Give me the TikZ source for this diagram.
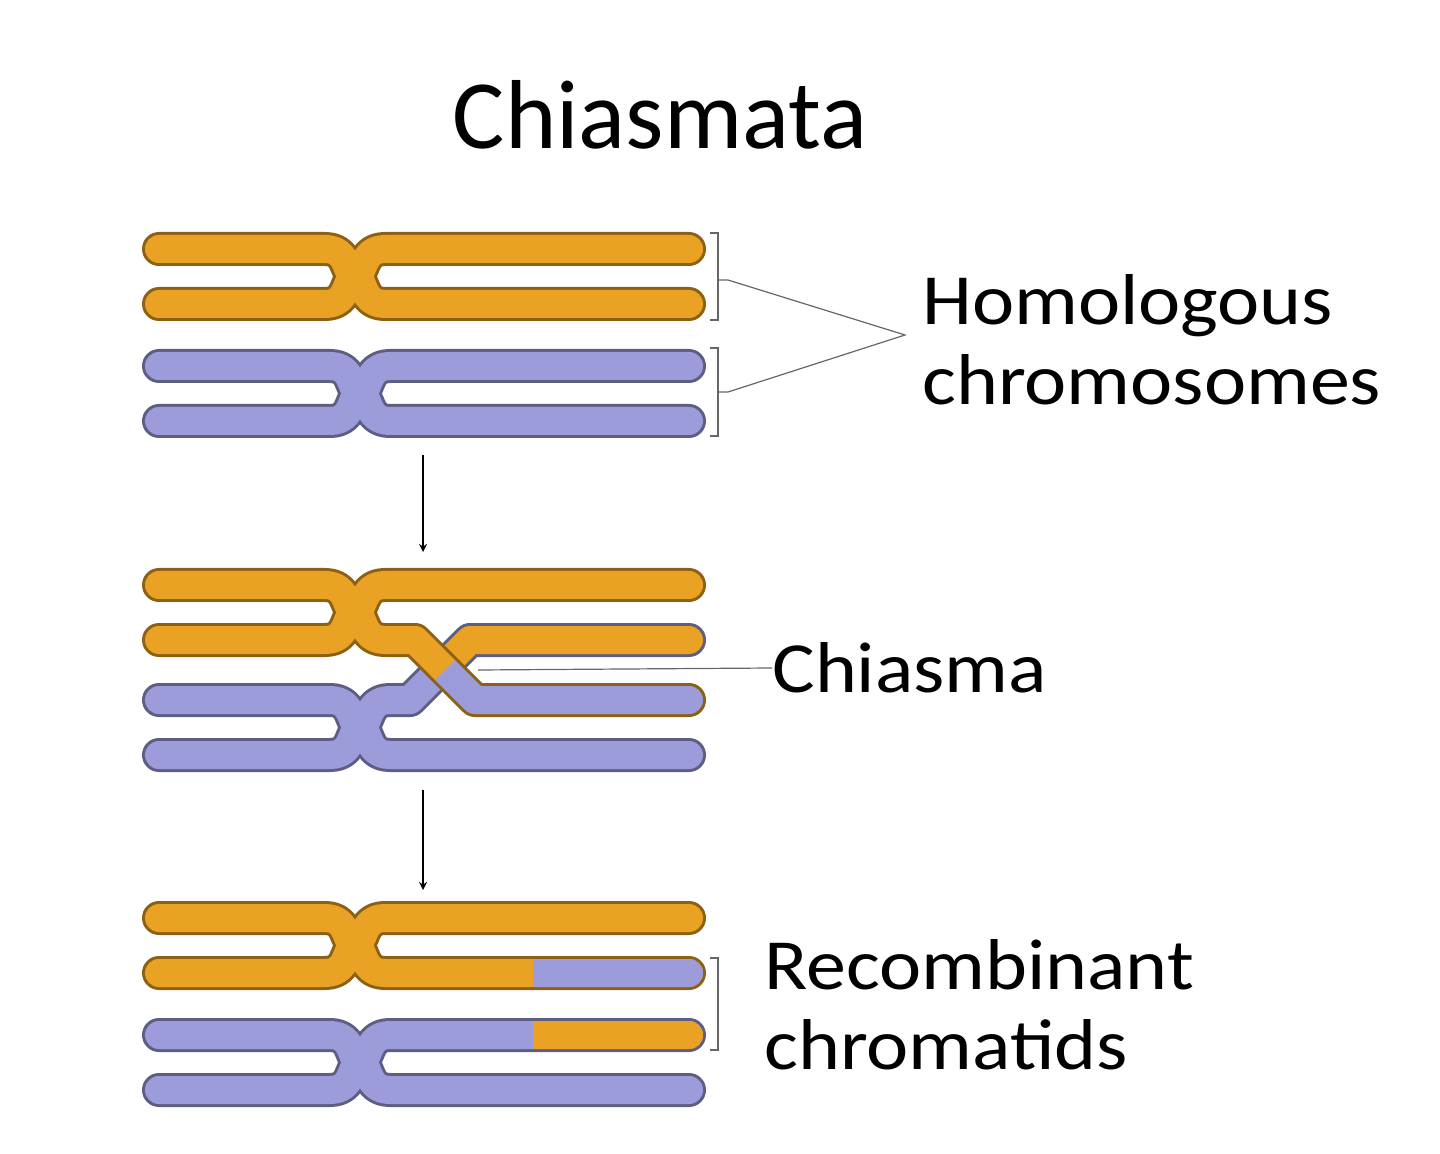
\documentclass[tikz,border=0pt]{standalone}
\usepackage{fontspec}
\setmainfont{Carlito}
\newcommand{\wideT}[1]{\scalebox{1.11}[1]{#1}}
\begin{document}
\begin{tikzpicture}[x=0.5pt,y=-0.5pt,
  ol/.style={line width=17pt,draw=#1!60!black,line cap=round,line join=round},
  fl/.style={line width=14pt,draw=#1,line cap=round,line join=round},
  thin/.style={draw=gray!80!black,line width=0.6pt},
  lab/.style={font=\fontsize{36}{40}\selectfont,anchor=west,align=left,inner sep=0pt}]
\definecolor{org}{HTML}{E9A224}
\definecolor{blu}{HTML}{9C9CDA}
\useasboundingbox (0,0) rectangle (1440,1154);
\node[font=\fontsize{49}{55}\selectfont] (title) at (660,115) {Chiasmata};
\def\pair#1#2#3{%
  \path[ol=#3] (159,#1) -- (#2-30,#1) .. controls (#2-5,#1) and (#2-10,#1+27.5) .. (#2,#1+27.5)
     .. controls (#2+10,#1+27.5) and (#2+5,#1) .. (#2+30,#1) -- (689,#1);
  \path[ol=#3] (159,#1+55) -- (#2-30,#1+55) .. controls (#2-5,#1+55) and (#2-10,#1+27.5) .. (#2,#1+27.5)
     .. controls (#2+10,#1+27.5) and (#2+5,#1+55) .. (#2+30,#1+55) -- (689,#1+55);
  \path[fl=#3] (159,#1) -- (#2-30,#1) .. controls (#2-5,#1) and (#2-10,#1+27.5) .. (#2,#1+27.5)
     .. controls (#2+10,#1+27.5) and (#2+5,#1) .. (#2+30,#1) -- (689,#1);
  \path[fl=#3] (159,#1+55) -- (#2-30,#1+55) .. controls (#2-5,#1+55) and (#2-10,#1+27.5) .. (#2,#1+27.5)
     .. controls (#2+10,#1+27.5) and (#2+5,#1+55) .. (#2+30,#1+55) -- (689,#1+55);}
\def\OT{(159,585) -- (325,585) .. controls (350,585) and (345,612.5) .. (355,612.5) .. controls (365,612.5) and (360,585) .. (385,585) -- (689,585)}
\def\OS{(159,640) -- (325,640) .. controls (350,640) and (345,612.5) .. (355,612.5) .. controls (365,612.5) and (360,640) .. (385,640) -- (415,640) -- (445,670) -- (475,700) -- (689,700)}
\def\BB{(159,755) -- (330,755) .. controls (355,755) and (350,727.5) .. (360,727.5) .. controls (370,727.5) and (365,755) .. (390,755) -- (689,755)}
\def\BS{(159,700) -- (330,700) .. controls (355,700) and (350,727.5) .. (360,727.5) .. controls (370,727.5) and (365,700) .. (390,700) -- (410,700) -- (440,670) -- (470,640) -- (689,640)}
% row 1
\pair{249}{355}{org}
\pair{366}{360}{blu}
% row 2
\path[ol=org] \OT; \path[ol=blu] \BB; \path[ol=blu] \BS;
\path[fl=blu] (159,700) -- (330,700) .. controls (355,700) and (350,727.5) .. (360,727.5) .. controls (370,727.5) and (365,700) .. (390,700) -- (410,700) -- (440,670);
\path[fl=org,line cap=butt] (440,670) -- (470,640) -- (689,640);
\fill[org] (689,640) circle[radius=7pt];
\path[ol=org] \OS;
\path[fl=org] (159,640) -- (325,640) .. controls (350,640) and (345,612.5) .. (355,612.5) .. controls (365,612.5) and (360,640) .. (385,640) -- (415,640) -- (445,670);
\path[fl=blu,line cap=butt] (445,670) -- (475,700) -- (689,700);
\fill[blu] (689,700) circle[radius=7pt];
\path[fl=org] \OT; \path[fl=blu] \BB;
% row 3
\pair{918}{355}{org}
\pair{1035}{360}{blu}
\path[fl=blu,line cap=butt] (533,973) -- (689,973);
\fill[blu] (689,973) circle[radius=7pt];
\path[fl=org,line cap=butt] (533,1035) -- (689,1035);
\fill[org] (689,1035) circle[radius=7pt];
% arrows
\coordinate (a1) at (423,455); \coordinate (a1e) at (423,552);
\coordinate (a2) at (423,790); \coordinate (a2e) at (423,890);
\draw[-stealth,line width=0.8pt] (a1) -- (a1e);
\draw[-stealth,line width=0.8pt] (a2) -- (a2e);
% brackets
\draw[thin] (710,233) -- (718,233) -- (718,320) -- (710,320);
\draw[thin] (710,348) -- (718,348) -- (718,436) -- (710,436);
\coordinate (b1) at (728,280); \coordinate (b2) at (728,392); \coordinate (hp) at (905,335);
\draw[thin] (718,280) -- (b1) -- (hp) -- (b2) -- (718,392);
\node[lab] (hom) at (922,340) {\wideT{Homologous}\\\wideT{chromosomes}};
\coordinate (cs) at (478,670);
\node[lab] (chi) at (772,668) {\wideT{Chiasma}};
\draw[thin] (cs) -- (chi.west);
\draw[thin] (710,958) -- (718,958) -- (718,1050) -- (710,1050);
\node[lab] (rec) at (764,1005) {\wideT{Recombinant}\\\wideT{chromatids}};
\end{tikzpicture}
\end{document}
